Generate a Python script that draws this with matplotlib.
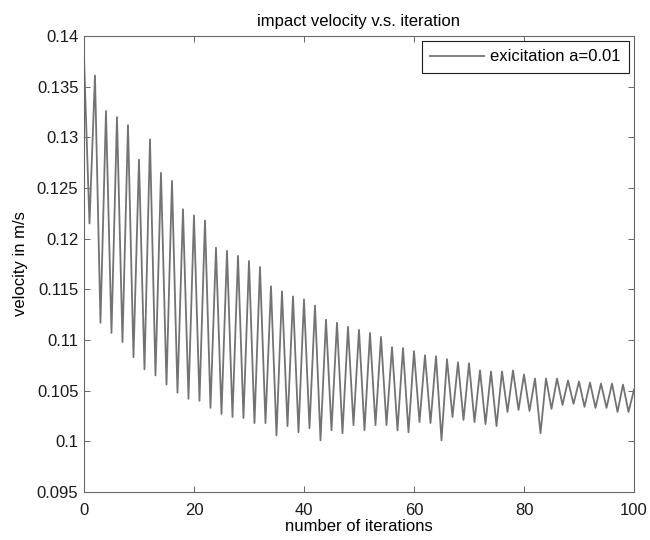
import numpy as np
import matplotlib
matplotlib.use("Agg")
import matplotlib.pyplot as plt
from matplotlib.ticker import FormatStrFormatter

plt.rcParams['font.family'] = ['Liberation Sans', 'DejaVu Sans']

# values
# even iterations (0, 2, 4, ... 100) -> upper points
upper = [0.1379, 0.1361, 0.1326, 0.1320, 0.1312, 0.1278, 0.1298, 0.1265, 0.1257,
         0.1229, 0.1223, 0.1218, 0.1191, 0.1188, 0.1183, 0.1178, 0.1172, 0.1153,
         0.1148, 0.1143, 0.1140, 0.1134, 0.1120, 0.1117, 0.1113, 0.1110, 0.1107,
         0.1103, 0.1093, 0.1092, 0.1089, 0.1085, 0.1084, 0.1081, 0.1078, 0.1077,
         0.1070, 0.1069, 0.1069, 0.1070, 0.1066, 0.1062, 0.1062, 0.1062, 0.1060,
         0.1059, 0.1058, 0.1057, 0.1057, 0.1056, 0.1051]
# odd iterations (1, 3, 5, ... 99) -> lower points
lower = [0.1215, 0.1117, 0.1107, 0.1098, 0.1083, 0.1071, 0.1065, 0.1056, 0.1048,
         0.1042, 0.1040, 0.1033, 0.1027, 0.1024, 0.1023, 0.1018, 0.1018, 0.1006,
         0.1015, 0.1009, 0.1013, 0.1001, 0.1011, 0.1008, 0.1016, 0.1011, 0.1016,
         0.1016, 0.1011, 0.1009, 0.1019, 0.1018, 0.1001, 0.1024, 0.1021, 0.1019,
         0.1017, 0.1015, 0.1029, 0.1031, 0.1030, 0.1008, 0.1032, 0.1036, 0.1037,
         0.1034, 0.1033, 0.1033, 0.1029, 0.1029]

iterations = np.arange(len(upper) + len(lower))
velocity = np.empty(len(iterations))
velocity[0::2] = upper
velocity[1::2] = lower

fig = plt.figure(figsize=(6.5, 5.4), dpi=100)
ax = fig.add_axes([0.1292, 0.0889, 0.8462, 0.8444])

ax.plot(iterations, velocity, color='0.45', linewidth=1.3, label='exicitation a=0.01')

ax.set_xlim(0, 100)
ax.set_ylim(0.095, 0.14)
ax.set_xticks([0, 20, 40, 60, 80, 100])
ax.set_yticks(np.arange(0.095, 0.1401, 0.005))
ax.yaxis.set_major_formatter(FormatStrFormatter('%g'))
ax.tick_params(direction='in', top=True, right=True, labelsize=12, length=4,
               width=0.6, colors='0.3', labelcolor='0.1')
ax.tick_params(axis='x', pad=8)
ax.tick_params(axis='y', pad=4)
for s in ax.spines.values():
    s.set_color('0.4')
    s.set_linewidth(0.8)

ax.set_title("impact velocity v.s. iteration", fontsize=12, pad=7)
ax.set_xlabel("number of iterations", fontsize=12, labelpad=1)
ax.set_ylabel("velocity in m/s", fontsize=12, labelpad=6)

leg = ax.legend(loc='upper right', fontsize=12, fancybox=False, framealpha=1,
                edgecolor='0.1', borderaxespad=0.3, handlelength=3.2,
                handletextpad=0.4, borderpad=0.5)
leg.get_frame().set_linewidth(0.8)

fig.savefig("out.png", dpi=100)
